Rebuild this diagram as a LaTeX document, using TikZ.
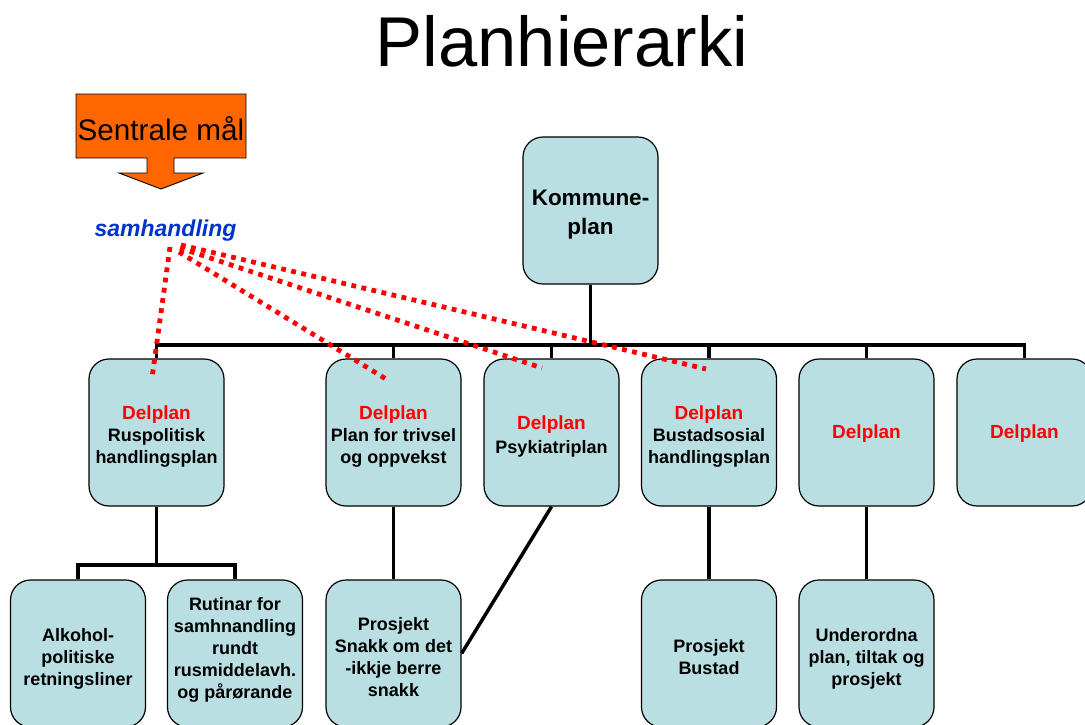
\documentclass[tikz,border=0pt]{standalone}
\usepackage{fontspec}
\setmainfont{Liberation Sans}
\definecolor{boxblue}{HTML}{B9DFE3}
\definecolor{orangebox}{HTML}{FF6600}
\definecolor{samblue}{HTML}{0033CC}
\definecolor{delred}{HTML}{FF0000}
\tikzset{
  planbox/.style={draw=black, line width=1.2pt, fill=boxblue, rounded corners=20pt,
    minimum width=135pt, minimum height=147pt, inner sep=0pt},
  lbl/.style={inner sep=0pt, align=center, font=\bfseries\fontsize{18}{22}\selectfont},
  conn/.style={line width=3.5pt, draw=black},
  reddot/.style={draw=delred, line width=4.8pt, dash pattern=on 4.8pt off 5.5pt},
}
\newcommand{\delp}{\textcolor{delred}{\fontsize{19}{22}\selectfont Delplan}}
\begin{document}
\begin{tikzpicture}[x=1pt,y=-1pt]
\fill[white] (0,0) rectangle (1085,724);
\useasboundingbox (0,0) rectangle (1085,724);

% title
\node[anchor=base, inner sep=0pt, font=\fontsize{70.5}{80}\selectfont] (title) at (562,66) {Planhierarki};

% Sentrale mål arrow
\draw[fill=orangebox, line width=0.9pt] (76,94) -- (246,94) -- (246,158) -- (174,158) -- (174,173) -- (203,173) -- (161,189) -- (119,173) -- (147,173) -- (147,158) -- (76,158) -- cycle;
\node[anchor=base, inner sep=0pt, font=\fontsize{29.7}{34}\selectfont] (sentrale) at (161,140) {Sentrale mål};

% samhandling
\node[anchor=base, inner sep=0pt, text=samblue, font=\bfseries\itshape\fontsize{23}{26}\selectfont] (samh) at (165.5,236) {samhandling};

% boxes
\node[planbox] (K) at (590.5,210.5) {};
\node[planbox] (D1) at (156.5,432.5) {};
\node[planbox] (D2) at (393.5,432.5) {};
\node[planbox] (D3) at (551.5,432.5) {};
\node[planbox] (D4) at (709,432.5) {};
\node[planbox] (D5) at (866.5,432.5) {};
\node[planbox] (D6) at (1024.5,432.5) {};
\node[planbox] (B1) at (78,653.5) {};
\node[planbox] (B2) at (235,653.5) {};
\node[planbox] (B3) at (393.5,653.5) {};
\node[planbox] (B4) at (709,653.5) {};
\node[planbox] (B5) at (866.5,653.5) {};

% box texts
\node[lbl, font=\bfseries\fontsize{22.5}{29}\selectfont] (Kt) at ([yshift=-4pt]K.center) {Kommune-\\plan};
\node[lbl] (D1t) at ([yshift=-4pt]D1.center) {\delp\\Ruspolitisk\\handlingsplan};
\node[lbl] (D2t) at ([yshift=-4pt]D2.center) {\delp\\Plan for trivsel\\og oppvekst};
\node[lbl] (D3t) at ([yshift=-4pt]D3.center) {\delp\\[2pt]Psykiatriplan};
\node[lbl] (D4t) at ([yshift=-4pt]D4.center) {\delp\\Bustadsosial\\handlingsplan};
\node[lbl] (D5t) at ([yshift=-1pt]D5.center) {\delp};
\node[lbl] (D6t) at ([yshift=-1pt]D6.center) {\delp};
\node[lbl] (B1t) at ([yshift=-5pt]B1.center) {Alkohol-\\politiske\\retningsliner};
\node[lbl] (B2t) at ([yshift=3.5pt]B2.center) {Rutinar for\\samhnandling\\rundt\\rusmiddelavh.\\og pårørande};
\node[lbl] (B3t) at ([yshift=-4pt]B3.center) {Prosjekt\\Snakk om det\\-ikkje berre\\snakk};
\node[lbl] (B4t) at ([yshift=-4pt]B4.center) {Prosjekt\\Bustad};
\node[lbl] (B5t) at ([yshift=-5pt]B5.center) {Underordna\\plan, tiltak og\\prosjekt};

% connectors
\coordinate (bar) at (590.5,345);
\draw[conn] (K.south) -- (bar);
\foreach \d in {D1,D2,D3,D4,D5,D6} {\draw[conn] (\d.north) |- (bar);}
\coordinate (sub) at (156.5,565);
\draw[conn] (D1.south) -- (sub);
\draw[conn] (B1.north) |- (sub);
\draw[conn] (B2.north) |- (sub);
\draw[conn] (D2.south) -- (B3.north);
\draw[conn] (D4.south) -- (B4.north);
\draw[conn] (D5.south) -- (B5.north);
\draw[conn] (D3.south) -- (B3.east);

% red dotted lines
\coordinate (s1) at (170,247);
\coordinate (s2) at (179,252);
\coordinate (s3) at (180,248);
\coordinate (s4) at (181,245);
\coordinate (e1) at (152,378);
\coordinate (e2) at (386,379);
\coordinate (e3) at (542,368);
\coordinate (e4) at (706,369);
\draw[reddot] (s1) -- (e1);
\draw[reddot] (s2) -- (e2);
\draw[reddot] (s3) -- (e3);
\draw[reddot] (s4) -- (e4);
\end{tikzpicture}
\end{document}
